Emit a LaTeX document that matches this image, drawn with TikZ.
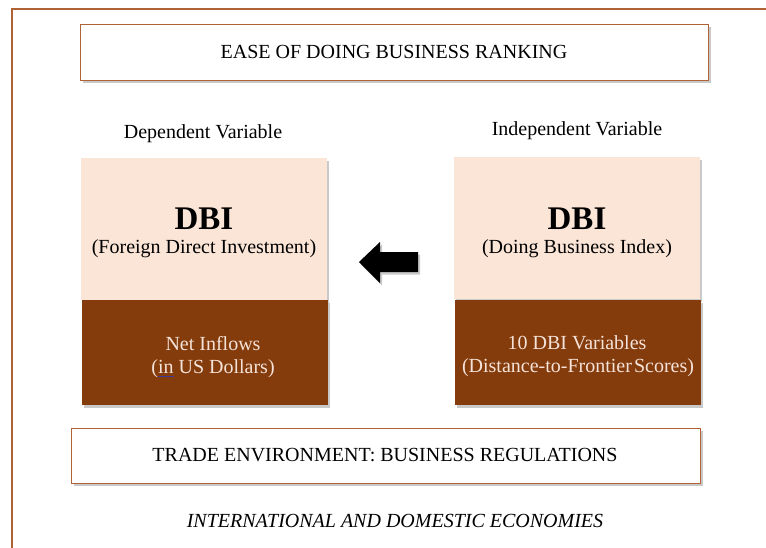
\documentclass[tikz,border=0pt]{standalone}
\usepackage{fontspec}
\setmainfont{Liberation Serif}
\usetikzlibrary{shadows}
\definecolor{framebrown}{HTML}{AE6236}
\definecolor{peach}{HTML}{FBE5D7}
\definecolor{rust}{HTML}{843C0C}
\definecolor{paletext}{HTML}{F5E2D8}
\definecolor{markblue}{HTML}{3A3AA0}
% word with a thin marker line beneath it
\newcommand\markedword[1]{\setbox0\hbox{#1}\rlap{\textcolor{markblue}{\rule[-3.5pt]{\wd0}{0.9pt}}}\box0\relax}
\begin{document}
\begin{tikzpicture}[x=1pt,y=-1pt,
  font=\fontsize{20}{24}\selectfont,
  softshadow/.style={drop shadow={shadow xshift=2pt, shadow yshift=-2.5pt, opacity=0.3, fill=black!70}},
  titlebox/.style={draw=framebrown, line width=1.4pt, fill=white, softshadow, anchor=north west, inner sep=0pt},
  upperbox/.style={fill=peach, softshadow, anchor=north west, inner sep=0pt, minimum width=246, minimum height=142},
  lowerbox/.style={fill=rust, softshadow, anchor=north west, inner sep=0pt, minimum width=246, minimum height=105},
  label/.style={anchor=base, inner sep=0pt},
  bigtitle/.style={label, font=\fontsize{33}{36}\selectfont\bfseries},
  lighttext/.style={label, text=paletext},
]
\useasboundingbox (0,0) rectangle (766,547);

% outer frame, open to the right and bottom
\draw[framebrown, line width=1.6pt] (12,560) -- (12,9) -- (780,9);

% top banner
\node[titlebox, minimum width=628, minimum height=56] (rank) at (80,24) {};
\node[label] (ranktext) at (394,58) {EASE OF DOING BUSINESS RANKING};

% column headings
\node[label] (dep) at (203,138) {Dependent Variable};
\node[label] (indep) at (577,135) {Independent Variable};

% left block: dependent variable
\node[upperbox] (fdi) at (81,158) {};
\node[lowerbox] (inflows) at (82,300) {};
\node[bigtitle] (fdititle) at (204,229) {DBI};
\node[label] (fdisub) at (204,253) {(Foreign Direct Investment)};
\node[lighttext] (inflowsA) at (213,350) {Net Inflows};
\node[lighttext] (inflowsB) at (213,373) {(\markedword{in} US Dollars)};

% right block: independent variable
\node[upperbox] (dbi) at (454,157) {};
\node[lowerbox] (vars) at (455,300) {};
\node[bigtitle] (dbititle) at (577,229) {DBI};
\node[label] (dbisub) at (577,253) {(Doing Business Index)};
\node[lighttext] (varsA) at (577,349) {10 DBI Variables};
\node[lighttext] (varsB) at (578,372) {(Distance-to-Frontier\hspace{0.1em}Scores)};

% block arrow from the index towards investment
\fill[black, softshadow] (359,262) -- (380,242) -- (380,252) -- (418,252) -- (418,272) -- (380,272) -- (380,283) -- cycle;

% bottom banner
\node[titlebox, minimum width=629, minimum height=55] (trade) at (71,428) {};
\node[label] (tradetext) at (385,461) {TRADE ENVIRONMENT: BUSINESS REGULATIONS};

% economies caption
\node[label, font=\fontsize{20}{24}\selectfont\itshape] (econ) at (395,527) {INTERNATIONAL AND DOMESTIC ECONOMIES};
\end{tikzpicture}
\end{document}
